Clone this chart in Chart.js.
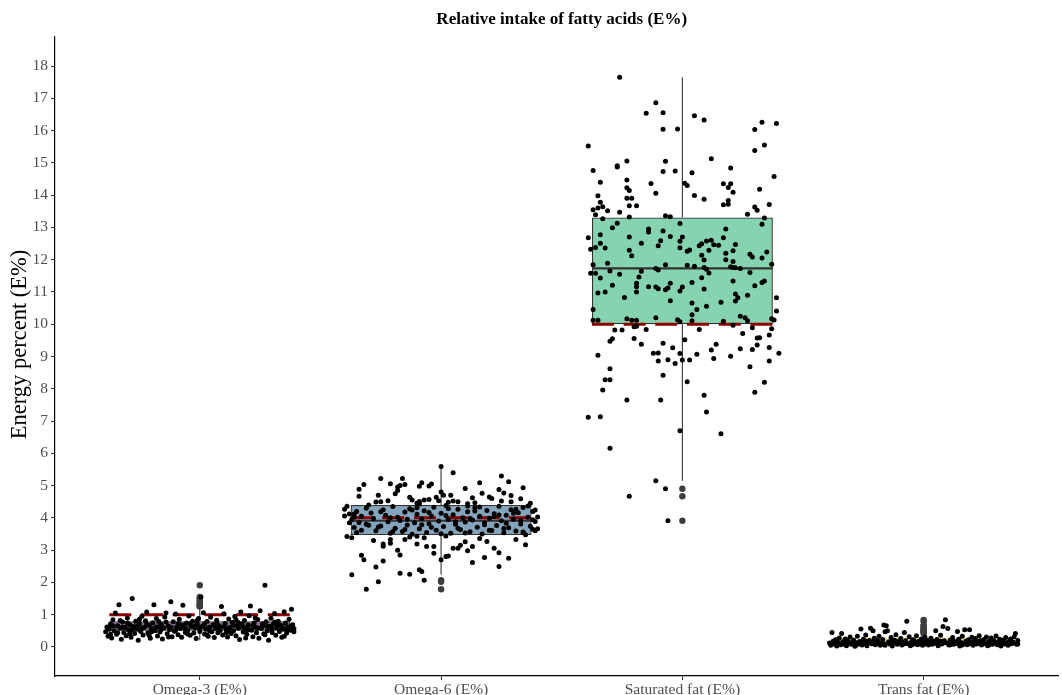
<!DOCTYPE html>
<html>
<head>
<meta charset="utf-8">
<script src="https://cdn.jsdelivr.net/npm/chart.js@4"></script>
<style>
  html, body { margin: 0; padding: 0; background: #fff; }
  #wrap { width: 1062px; height: 695px; position: relative; }
</style>
</head>
<body>
<div id="wrap"><canvas id="chart" width="1062" height="695"></canvas></div>
<script>
// ---- categories and axis ticks ----
const categories = ['Omega-3 (E%)', 'Omega-6 (E%)', 'Saturated fat (E%)', 'Trans fat (E%)'];
const yTicks = [0, 1, 2, 3, 4, 5, 6, 7, 8, 9, 10, 11, 12, 13, 14, 15, 16, 17, 18];
const chartTitle = 'Relative intake of fatty acids (E%)';
const yTitle = 'Energy percent (E%)';

// ---- box-plot summaries (one entry per category) ----
const lowerQuartile = [0.50, 3.47, 10.00, 0.07];
const medianValue   = [0.63, 3.91, 11.73, 0.12];
const upperQuartile = [0.80, 4.40, 13.31, 0.20];
const whiskerLow    = [0.21, 2.24, 5.15, 0.02];
const whiskerHigh   = [1.17, 5.59, 17.65, 0.38];
const outliers = [
  [1.25, 1.27, 1.29, 1.31, 1.35, 1.40, 1.45, 1.50, 1.55, 1.91],
  [2.07, 2.02, 1.79],
  [4.90, 4.67, 3.91],
  [0.42, 0.45, 0.47, 0.50, 0.53, 0.56, 0.58, 0.63, 0.66, 0.68, 0.80, 0.84]
];
// recommended intake reference lines
const referenceLevel = [1.0, 4.0, 10.0, 0.25];

// ---- individual observations ----
const omega3Values = [
  0.47, 0.62, 0.33, 0.55, 0.71, 0.28, 0.84, 0.50, 1.05, 0.39,
  0.66, 1.31, 0.58, 0.24, 0.77, 0.45, 0.60, 0.35, 0.90, 0.52,
  0.69, 0.30, 1.50, 0.63, 0.42, 0.80, 0.55, 0.21, 0.72, 0.48,
  0.95, 0.37, 0.60, 0.81, 1.08, 0.44, 0.67, 0.27, 0.56, 0.75,
  1.31, 0.50, 0.88, 0.34, 0.62, 0.46, 0.70, 0.25, 0.58, 0.93,
  1.05, 0.41, 0.65, 0.53, 1.40, 0.32, 0.78, 0.49, 1.02, 0.61,
  0.38, 0.86, 0.57, 0.30, 1.29, 0.68, 0.45, 0.74, 0.52, 0.96,
  0.36, 0.63, 0.80, 0.43, 0.59, 0.26, 0.71, 0.88, 0.48, 1.55,
  0.64, 1.06, 0.40, 0.55, 0.79, 0.33, 0.61, 0.92, 0.47, 0.69,
  0.29, 0.57, 0.83, 0.44, 0.66, 0.51, 1.25, 0.37, 1.03, 0.73,
  0.54, 0.31, 0.87, 0.60, 0.42, 0.76, 0.50, 0.94, 0.35, 0.65,
  0.58, 0.23, 1.08, 0.70, 0.46, 0.82, 0.55, 0.39, 0.68, 0.97,
  1.27, 0.52, 0.32, 0.74, 0.61, 0.44, 0.85, 0.27, 1.12, 0.57,
  0.66, 0.41, 1.91, 0.78, 0.50, 0.21, 0.63, 0.89, 0.45, 0.71,
  1.04, 0.36, 0.59, 0.80, 0.48, 0.67, 0.30, 0.55, 1.09, 0.74,
  0.43, 0.62, 0.86, 0.52, 1.17, 0.69, 0.57,
  0.58, 0.66, 0.44, 0.61, 0.74, 0.53, 0.64, 0.57, 0.70, 0.47,
  0.62, 0.54, 0.77, 0.60, 0.51, 0.69, 0.56, 0.73, 0.65, 0.58,
  0.72, 0.50, 0.66, 0.59, 0.63, 0.48, 0.68, 0.76, 0.61, 0.53,
  0.67, 0.58, 0.72, 0.64, 0.56, 0.70, 0.62, 0.51, 0.66,
  0.39, 0.82, 0.41, 0.86, 0.36, 0.79, 0.31, 0.72, 0.40, 0.83,
  0.37, 0.75, 0.45, 0.84, 0.28, 0.90, 0.38, 0.77, 0.33, 0.47
];
const omega3Jitter = [
  -0.390, -0.385, -0.380, -0.375, -0.370, -0.365, -0.360, -0.355, -0.350, -0.345,
  -0.340, -0.335, -0.330, -0.325, -0.320, -0.315, -0.310, -0.305, -0.300, -0.295,
  -0.290, -0.285, -0.280, -0.275, -0.270, -0.265, -0.260, -0.255, -0.250, -0.245,
  -0.240, -0.235, -0.230, -0.225, -0.220, -0.215, -0.210, -0.205, -0.200, -0.195,
  -0.190, -0.185, -0.180, -0.175, -0.170, -0.165, -0.160, -0.155, -0.150, -0.145,
  -0.140, -0.135, -0.130, -0.125, -0.120, -0.115, -0.110, -0.105, -0.100, -0.095,
  -0.090, -0.085, -0.080, -0.075, -0.070, -0.065, -0.060, -0.055, -0.050, -0.045,
  -0.040, -0.035, -0.030, -0.025, -0.020, -0.015, -0.010, -0.005, 0.000, 0.005,
  0.010, 0.015, 0.020, 0.025, 0.030, 0.035, 0.040, 0.045, 0.050, 0.055,
  0.060, 0.065, 0.070, 0.075, 0.080, 0.085, 0.090, 0.095, 0.100, 0.105,
  0.110, 0.115, 0.120, 0.125, 0.130, 0.135, 0.140, 0.145, 0.150, 0.155,
  0.160, 0.165, 0.170, 0.175, 0.180, 0.185, 0.190, 0.195, 0.200, 0.205,
  0.210, 0.215, 0.220, 0.225, 0.230, 0.235, 0.240, 0.245, 0.250, 0.255,
  0.260, 0.265, 0.270, 0.275, 0.280, 0.285, 0.290, 0.295, 0.300, 0.305,
  0.310, 0.315, 0.320, 0.325, 0.330, 0.335, 0.340, 0.345, 0.350, 0.355,
  0.360, 0.365, 0.370, 0.375, 0.380, 0.385, 0.390,
  -0.38, -0.36, -0.34, -0.32, -0.30, -0.28, -0.26, -0.24, -0.22, -0.20,
  -0.18, -0.16, -0.14, -0.12, -0.10, -0.08, -0.06, -0.04, -0.02, 0.00,
  0.02, 0.04, 0.06, 0.08, 0.10, 0.12, 0.14, 0.16, 0.18, 0.20,
  0.22, 0.24, 0.26, 0.28, 0.30, 0.32, 0.34, 0.36, 0.38,
  -0.37, -0.33, -0.29, -0.25, -0.21, -0.17, -0.13, -0.09, -0.05, -0.01,
  0.03, 0.07, 0.11, 0.15, 0.19, 0.23, 0.27, 0.31, 0.35, 0.39
];

const omega6Values = [
  5.59, 5.40, 5.22, 5.22, 5.03, 4.89, 5.06, 5.00, 4.96, 5.03,
  5.09, 4.98, 5.05, 4.99, 4.67, 4.70, 4.50, 4.49, 4.53, 4.85,
  4.75, 4.64, 4.55, 4.45, 4.51, 4.55, 4.43, 4.57, 4.64, 4.80,
  4.70, 4.53, 4.48, 4.70, 4.91, 5.09, 4.76, 4.65, 4.60, 5.30,
  4.88, 4.77, 5.12, 4.69, 4.52, 4.50, 4.59, 4.93, 4.45, 4.52,
  4.50, 4.44, 4.62, 4.37, 4.47, 4.27, 4.06, 3.85, 4.12, 3.42,
  3.38, 2.24, 1.79, 2.02, 2.84, 2.70, 2.66, 2.28, 2.25, 2.39,
  2.34, 2.07, 2.70, 2.80, 2.82, 3.06, 3.06, 3.15, 3.26, 3.11,
  2.77, 3.06, 2.92, 2.49, 2.75, 3.33, 3.55, 3.65, 4.24, 4.03,
  3.19, 3.21, 3.00, 2.85, 3.33, 3.41, 3.19, 3.11, 3.11, 2.90,
  3.33, 3.43, 3.38, 3.30, 3.12, 2.48, 2.62, 3.17, 3.27, 2.98,
  3.36, 3.44,
  4.36, 4.20, 4.05, 3.95, 3.70, 3.62, 3.55, 4.30, 3.80, 4.15,
  3.98, 3.60, 3.75, 4.25, 4.08, 3.88, 3.52, 4.35, 3.68, 4.02,
  3.92, 3.58, 4.18, 3.78, 4.28, 3.49, 3.85, 4.11, 3.66, 3.97,
  4.22, 3.55, 3.82, 4.06, 4.33, 3.62, 3.90, 4.14, 3.73, 4.38,
  3.95, 3.52, 4.10, 3.80, 4.27, 3.64, 4.00, 3.87, 4.19, 3.57,
  3.93, 4.31, 3.71, 4.05, 3.50, 3.84, 4.23, 3.99, 3.61, 4.13,
  3.76, 4.36, 3.91, 3.54, 4.08, 3.69, 4.25, 3.96, 3.59, 4.16,
  3.81, 4.32, 3.48, 4.02, 3.74, 4.20, 3.89, 3.66,
  4.12, 3.86, 4.40, 3.72, 4.00, 3.64, 4.24, 3.79, 4.17, 3.51,
  4.29, 3.68, 3.98, 4.34, 3.62, 4.09, 3.83, 4.27, 3.56, 3.94,
  4.03, 3.77, 4.19, 3.58, 3.96, 4.31, 3.71, 4.07, 3.88, 3.53,
  4.21, 3.79, 4.04, 3.67, 4.14, 3.92, 4.37, 3.60
];
const omega6Jitter = [
  0.00, 0.05, -0.25, -0.16, -0.32, -0.34, -0.21, -0.17, -0.18, -0.15,
  -0.08, -0.09, -0.04, -0.05, -0.34, -0.26, -0.25, -0.27, -0.22, -0.18,
  -0.19, -0.13, -0.12, -0.10, -0.09, -0.07, -0.09, -0.05, -0.02, 0.00,
  0.01, -0.01, 0.03, 0.04, 0.10, 0.16, 0.17, 0.20, 0.21, 0.25,
  0.24, 0.26, 0.28, 0.29, 0.25, 0.29, 0.33, 0.34, 0.37, 0.05,
  0.07, 0.11, 0.13, 0.11, 0.14, -0.40, -0.40, -0.38, -0.36, -0.39,
  -0.37, -0.37, -0.31, -0.26, -0.33, -0.32, -0.24, -0.17, -0.13, -0.09,
  -0.08, -0.07, 0.00, 0.02, 0.03, 0.05, 0.07, 0.08, 0.10, 0.13,
  0.18, 0.22, 0.24, 0.24, 0.28, 0.31, 0.34, 0.38, 0.39, 0.40,
  -0.24, -0.21, -0.18, -0.17, -0.15, -0.13, -0.10, -0.06, -0.03, -0.03,
  -0.21, -0.10, -0.07, -0.28, -0.24, -0.27, 0.13, 0.35, 0.19, 0.11,
  0.16, 0.02,
  -0.39, -0.35, -0.33, -0.37, -0.36, -0.33, -0.35, -0.31, -0.31, -0.29,
  -0.28, -0.27, -0.25, -0.24, -0.23, -0.22, -0.21, -0.20, -0.19, -0.18,
  -0.17, -0.16, -0.15, -0.14, -0.13, -0.12, -0.11, -0.10, -0.09, -0.08,
  -0.07, -0.06, -0.05, -0.04, -0.03, -0.02, -0.01, 0.00, 0.01, 0.02,
  0.03, 0.04, 0.05, 0.06, 0.07, 0.08, 0.09, 0.10, 0.11, 0.12,
  0.13, 0.14, 0.15, 0.16, 0.17, 0.18, 0.19, 0.20, 0.21, 0.22,
  0.23, 0.24, 0.25, 0.26, 0.27, 0.28, 0.29, 0.30, 0.31, 0.32,
  0.33, 0.34, 0.35, 0.36, 0.37, 0.38, 0.39, 0.40,
  -0.38, -0.34, -0.30, -0.26, -0.21, -0.15, -0.12, -0.08, -0.05, 0.00,
  0.03, 0.07, 0.12, 0.16, 0.20, 0.24, 0.27, 0.31, 0.34, 0.38,
  -0.36, -0.30, -0.25, -0.20, -0.14, -0.10, -0.04, 0.02, 0.06, 0.10,
  0.14, 0.18, 0.22, 0.26, 0.30, 0.33, 0.36, 0.39
];

const saturatedValues = [
  17.65, 16.86, 16.54, 16.55, 16.46, 16.33, 16.04, 16.05, 16.26, 16.22,
  16.03, 15.55, 15.52, 15.38, 15.06, 15.05, 15.13, 14.91, 14.87, 14.76,
  14.73, 14.75, 14.69, 14.84, 14.58, 14.40, 14.47, 14.36, 14.37, 14.30,
  14.35, 14.35, 14.24, 14.18, 14.23, 14.14, 14.06, 14.09, 13.98, 13.99,
  13.90, 13.90, 13.87, 13.83, 13.71, 13.78, 13.64, 13.60, 13.55, 13.52,
  13.67, 13.67, 13.70, 13.72, 13.63, 13.53, 13.41, 13.39, 13.47, 13.32,
  13.36, 13.33, 13.29, 13.27, 13.10, 13.13, 12.99, 13.12, 12.95, 12.86,
  12.89, 12.95, 12.68, 12.77, 12.70, 12.72, 12.70, 12.68, 12.36, 12.51,
  12.38, 12.32, 12.29, 12.12, 12.51, 12.43, 12.59, 12.37, 12.57, 12.26,
  12.30, 12.43, 12.49, 12.58, 12.60, 12.46, 12.29, 12.14, 11.99, 12.45,
  12.20, 12.00, 12.28, 12.47, 11.94, 12.17, 12.08, 12.05, 12.24, 11.86,
  11.84, 11.89, 11.65, 11.58, 11.58, 11.43, 11.55, 11.64, 11.46, 11.73,
  11.68, 11.84, 11.27, 11.83, 11.80, 11.76, 11.70, 11.59, 11.44, 11.78,
  11.76, 11.75, 11.73, 11.60, 11.34, 11.29, 11.34, 11.19, 11.21, 11.00,
  10.97, 11.27, 11.16, 11.00, 11.16, 11.15, 11.10, 11.07, 11.12, 11.15,
  11.03, 11.29, 11.09, 10.83, 10.73, 10.66, 10.29, 10.46, 10.56, 10.68,
  10.72, 10.82, 10.94, 10.90, 10.82, 10.41, 10.46, 10.12, 10.12, 10.17,
  10.12, 10.12, 10.20, 10.14, 10.08, 10.11, 10.09, 10.25, 10.20, 10.11,
  10.17, 10.13, 9.97, 9.92, 9.94, 9.84, 9.82, 9.82, 9.84, 9.89,
  9.86, 9.71, 9.67, 9.55, 9.47, 9.56, 9.38, 9.52, 9.41, 9.38,
  9.57, 9.58, 9.36, 9.28, 9.24, 9.22, 9.20, 9.27, 9.10, 9.11,
  9.09, 9.07, 9.01, 9.10, 9.04, 8.86, 8.90, 8.78, 8.89, 8.89,
  8.94, 8.86, 8.62, 8.68, 8.42, 8.28, 8.28, 8.22, 8.20, 7.96,
  7.89, 7.80, 7.65, 7.65, 7.28, 7.12, 7.13, 6.70, 6.61, 6.16,
  5.15, 4.90, 4.67, 3.91
];
const saturatedJitter = [
  -0.26, -0.11, -0.15, -0.08, 0.05, 0.09, -0.08, -0.02, 0.33, 0.39,
  0.30, 0.34, -0.39, 0.30, -0.23, -0.07, 0.12, -0.27, -0.27, -0.37,
  -0.08, -0.03, 0.04, 0.20, 0.38, -0.34, -0.23, -0.13, 0.01, 0.02,
  0.17, 0.20, 0.19, 0.32, -0.23, -0.22, -0.11, 0.21, -0.35, 0.05,
  -0.23, -0.21, 0.09, 0.19, 0.36, -0.34, -0.33, -0.35, -0.37, -0.31,
  -0.22, -0.19, 0.17, 0.19, 0.30, 0.31, 0.27, -0.36, -0.26, -0.22,
  -0.07, -0.05, 0.34, -0.33, 0.33, -0.27, -0.29, -0.01, -0.14, -0.14,
  -0.08, 0.18, -0.39, -0.34, -0.22, -0.05, 0.00, 0.17, -0.32, -0.34,
  -0.36, -0.38, -0.22, -0.21, -0.17, -0.10, -0.09, -0.01, -0.01, 0.02,
  0.03, 0.07, 0.08, 0.10, 0.12, 0.13, 0.11, 0.08, 0.09, 0.15,
  0.18, 0.18, 0.21, 0.22, 0.21, 0.28, 0.29, 0.33, 0.35, 0.37,
  -0.37, -0.31, -0.30, -0.38, -0.36, -0.34, -0.26, -0.17, -0.18, -0.11,
  -0.10, -0.07, -0.05, 0.02, 0.05, 0.09, 0.10, 0.11, 0.08, 0.20,
  0.21, 0.22, 0.24, 0.28, 0.21, 0.33, 0.34, 0.30, -0.29, -0.32,
  -0.35, -0.19, -0.19, -0.19, -0.14, -0.11, -0.10, -0.07, -0.06, 0.00,
  -0.01, 0.04, 0.09, -0.24, -0.05, 0.04, 0.04, 0.06, 0.10, 0.16,
  0.22, 0.23, 0.22, 0.27, 0.39, 0.39, -0.37, -0.37, -0.35, -0.23,
  -0.21, -0.19, -0.11, -0.02, -0.01, 0.04, 0.17, 0.24, 0.26, 0.27,
  0.37, 0.38, 0.21, -0.20, -0.19, -0.15, -0.28, -0.25, 0.07, 0.29,
  0.37, 0.25, 0.36, -0.29, -0.30, -0.20, -0.17, 0.01, -0.08, 0.14,
  0.31, 0.32, 0.31, 0.36, 0.24, 0.29, 0.12, -0.04, -0.12, -0.10,
  -0.01, 0.06, 0.20, 0.40, -0.35, -0.10, -0.06, -0.03, 0.00, 0.03,
  0.13, 0.36, -0.30, 0.28, -0.08, -0.32, -0.30, 0.02, 0.34, -0.33,
  0.30, 0.09, -0.23, -0.09, 0.10, -0.39, -0.34, -0.01, 0.16, -0.30,
  -0.11, -0.07, -0.22, -0.06
];

const transValues = [
  0.12, 0.05, 0.45, 0.18, 0.09, 0.22, 0.03, 0.14, 0.28, 0.07,
  0.42, 0.16, 0.10, 0.25, 0.04, 0.19, 0.11, 0.31, 0.08, 0.15,
  0.21, 0.02, 0.13, 0.33, 0.09, 0.17, 0.56, 0.06, 0.24, 0.12,
  0.37, 0.04, 0.15, 0.20, 0.58, 0.10, 0.50, 0.27, 0.07, 0.14,
  0.19, 0.33, 0.05, 0.11, 0.23, 0.68, 0.47, 0.66, 0.50, 0.16,
  0.09, 0.29, 0.03, 0.13, 0.21, 0.38, 0.08, 0.17, 0.11, 0.26,
  0.06, 0.14, 0.45, 0.19, 0.80, 0.10, 0.32, 0.04, 0.16, 0.22,
  0.09, 0.13, 0.35, 0.07, 0.18, 0.12, 0.25, 0.05, 0.15, 0.30,
  0.10, 0.20, 0.06, 0.14, 0.27, 0.08, 0.17, 0.11, 0.50, 0.23,
  0.04, 0.13, 0.36, 0.09, 0.63, 0.19, 0.84, 0.12, 0.57, 0.06,
  0.21, 0.15, 0.29, 0.08, 0.17, 0.11, 0.48, 0.24, 0.03, 0.14,
  0.33, 0.10, 0.53, 0.18, 0.07, 0.22, 0.53, 0.13, 0.30, 0.05,
  0.16, 0.26, 0.09, 0.12, 0.35, 0.19, 0.06, 0.14, 0.23, 0.10,
  0.31, 0.04, 0.17, 0.12, 0.28, 0.08, 0.20, 0.15, 0.34, 0.07,
  0.11, 0.24, 0.03, 0.16, 0.21, 0.09, 0.29, 0.13, 0.05, 0.18,
  0.25, 0.10, 0.15, 0.32, 0.42, 0.08, 0.20,
  0.14, 0.08, 0.17, 0.11, 0.15, 0.09, 0.18, 0.12, 0.07, 0.16,
  0.11, 0.18, 0.07, 0.13, 0.10, 0.17, 0.06, 0.14, 0.12, 0.09,
  0.19, 0.13, 0.06, 0.18, 0.12, 0.05, 0.15, 0.10, 0.20, 0.08,
  0.14, 0.12, 0.19, 0.06, 0.15, 0.11, 0.18, 0.08, 0.14
];
const transJitter = [
  -0.390, -0.385, -0.380, -0.375, -0.370, -0.365, -0.360, -0.355, -0.350, -0.345,
  -0.340, -0.335, -0.330, -0.325, -0.320, -0.315, -0.310, -0.305, -0.300, -0.295,
  -0.290, -0.285, -0.280, -0.275, -0.270, -0.265, -0.260, -0.255, -0.250, -0.245,
  -0.240, -0.235, -0.230, -0.225, -0.220, -0.215, -0.210, -0.205, -0.200, -0.195,
  -0.190, -0.185, -0.180, -0.175, -0.170, -0.165, -0.160, -0.155, -0.150, -0.145,
  -0.140, -0.135, -0.130, -0.125, -0.120, -0.115, -0.110, -0.105, -0.100, -0.095,
  -0.090, -0.085, -0.080, -0.075, -0.070, -0.065, -0.060, -0.055, -0.050, -0.045,
  -0.040, -0.035, -0.030, -0.025, -0.020, -0.015, -0.010, -0.005, 0.000, 0.005,
  0.010, 0.015, 0.020, 0.025, 0.030, 0.035, 0.040, 0.045, 0.050, 0.055,
  0.060, 0.065, 0.070, 0.075, 0.080, 0.085, 0.090, 0.095, 0.100, 0.105,
  0.110, 0.115, 0.120, 0.125, 0.130, 0.135, 0.140, 0.145, 0.150, 0.155,
  0.160, 0.165, 0.170, 0.175, 0.180, 0.185, 0.190, 0.195, 0.200, 0.205,
  0.210, 0.215, 0.220, 0.225, 0.230, 0.235, 0.240, 0.245, 0.250, 0.255,
  0.260, 0.265, 0.270, 0.275, 0.280, 0.285, 0.290, 0.295, 0.300, 0.305,
  0.310, 0.315, 0.320, 0.325, 0.330, 0.335, 0.340, 0.345, 0.350, 0.355,
  0.360, 0.365, 0.370, 0.375, 0.380, 0.385, 0.390,
  -0.37, -0.33, -0.29, -0.25, -0.21, -0.17, -0.13, -0.09, -0.05, -0.01,
  0.03, 0.07, 0.11, 0.15, 0.19, 0.23, 0.27, 0.31, 0.35, 0.39,
  -0.36, -0.32, -0.28, -0.24, -0.20, -0.16, -0.12, -0.08, -0.04, 0.00,
  0.04, 0.08, 0.12, 0.16, 0.20, 0.24, 0.28, 0.32, 0.36
];

// ---- styling ----
const serif = '"Liberation Serif", "Times New Roman", serif';
const boxFill = ['rgba(68,1,84,0.6)', 'rgba(49,104,142,0.6)', 'rgba(53,183,121,0.6)', 'rgba(253,231,37,0.6)'];
const referenceColour = ['#8b0000', '#8b0000', '#8b0000', '#ece07c'];
const lineGrey = '#333333';
const boxHalfWidth = 0.375;

const observations = [
  { values: omega3Values, jitter: omega3Jitter },
  { values: omega6Values, jitter: omega6Jitter },
  { values: saturatedValues, jitter: saturatedJitter },
  { values: transValues, jitter: transJitter }
];

const segment = (x0, y0, x1, y1) => [{ x: x0, y: y0 }, { x: x1, y: y1 }];
const lineStyle = { type: 'scatter', showLine: true, pointRadius: 0, pointHoverRadius: 0, fill: false };

const datasets = [];

// boxes (interquartile range)
datasets.push({
  type: 'bar',
  data: categories.map((c, i) => ({ x: i + 1, y: [lowerQuartile[i], upperQuartile[i]] })),
  backgroundColor: boxFill,
  borderColor: lineGrey,
  borderWidth: 1.3,
  borderSkipped: false,
  barPercentage: 0.75,
  categoryPercentage: 1,
  order: 9
});

categories.forEach((c, i) => {
  const pos = i + 1;
  // whiskers
  datasets.push({ ...lineStyle, data: segment(pos, upperQuartile[i], pos, whiskerHigh[i]),
    borderColor: lineGrey, borderWidth: 1.1, order: 10 });
  datasets.push({ ...lineStyle, data: segment(pos, lowerQuartile[i], pos, whiskerLow[i]),
    borderColor: lineGrey, borderWidth: 1.1, order: 10 });
  // median
  datasets.push({ ...lineStyle, data: segment(pos - boxHalfWidth, medianValue[i], pos + boxHalfWidth, medianValue[i]),
    borderColor: lineGrey, borderWidth: 2.2, order: 8 });
  // outliers
  datasets.push({ type: 'scatter', data: outliers[i].map(v => ({ x: pos, y: v })),
    pointRadius: 3.2, pointHoverRadius: 3.2, backgroundColor: '#3d3d3d', borderWidth: 0, order: 7 });
  // reference intake line
  datasets.push({ ...lineStyle, data: segment(pos - boxHalfWidth, referenceLevel[i], pos + boxHalfWidth, referenceLevel[i]),
    borderColor: referenceColour[i], borderWidth: 3, borderDash: [22, 9.7], order: 2 });
  // jittered observations
  datasets.push({ type: 'scatter',
    data: observations[i].values.map((v, k) => ({ x: pos + observations[i].jitter[k], y: v })),
    pointRadius: 2.5, pointHoverRadius: 2.5, backgroundColor: '#000', borderWidth: 0, order: 0 });
});

// plot title centred over the panel, and the rotated y-axis title
const plotTitles = {
  id: 'plotTitles',
  afterDraw(chart) {
    const { ctx, scales, chartArea } = chart;
    const cx = (scales.x.getPixelForValue(0.4) + scales.x.getPixelForValue(4.6)) / 2;
    ctx.save();
    ctx.fillStyle = '#000';
    ctx.textAlign = 'center';
    ctx.textBaseline = 'middle';
    ctx.font = 'bold 17px ' + serif;
    ctx.fillText(chartTitle, cx, 20);
    ctx.translate(20, (chartArea.top + chartArea.bottom) / 2 - 12);
    ctx.rotate(-Math.PI / 2);
    ctx.font = '22.5px ' + serif;
    ctx.fillText(yTitle, 0, 0);
    ctx.restore();
  }
};

new Chart(document.getElementById('chart'), {
  data: { datasets },
  options: {
    responsive: false,
    devicePixelRatio: 1,
    animation: false,
    layout: { padding: { top: 37, right: 0, bottom: 0, left: 0 } },
    plugins: { legend: { display: false }, tooltip: { enabled: false }, title: { display: false } },
    scales: {
      x: {
        type: 'linear',
        offset: false,
        min: 0.4,
        max: 4.56,
        afterBuildTicks: s => { s.ticks = categories.map((c, i) => ({ value: i + 1 })); },
        afterFit: s => { s.height = 19; },
        ticks: {
          callback: v => categories[Math.round(v) - 1],
          font: { family: serif, size: 15.5 },
          color: '#4d4d4d',
          padding: 1,
          maxRotation: 0,
          autoSkip: false
        },
        grid: { offset: false, drawOnChartArea: false, drawTicks: true, tickLength: 4, color: lineGrey },
        border: { color: '#000', width: 1.2 }
      },
      y: {
        type: 'linear',
        min: -0.9,
        max: 18.9,
        afterBuildTicks: s => { s.ticks = yTicks.map(v => ({ value: v })); },
        afterFit: s => { s.width = 55; },
        ticks: {
          callback: v => String(v),
          font: { family: serif, size: 15.5 },
          color: '#4d4d4d',
          padding: 3,
          autoSkip: false
        },
        grid: { drawOnChartArea: false, drawTicks: true, tickLength: 4, color: lineGrey },
        border: { color: '#000', width: 1.2 }
      }
    }
  },
  plugins: [plotTitles]
});
</script>
</body>
</html>
